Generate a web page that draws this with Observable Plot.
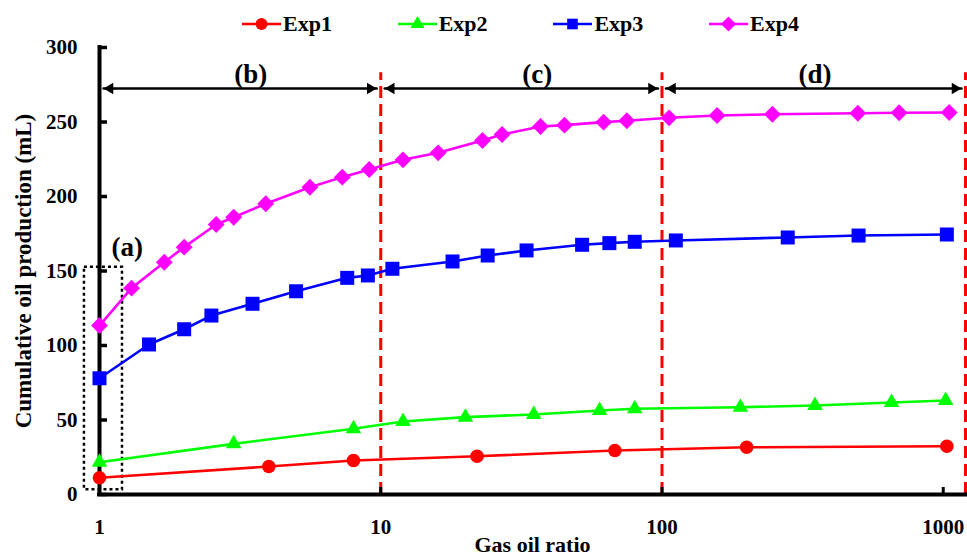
<!DOCTYPE html>
<html>
<head>
<meta charset="utf-8">
<script src="https://cdn.jsdelivr.net/npm/d3@7"></script>
<script src="https://cdn.jsdelivr.net/npm/@observablehq/plot@0.6"></script>
<style>
  html, body { margin: 0; padding: 0; background: #fff; }
  #wrap { position: relative; width: 967px; height: 558px; overflow: hidden; }
  #legend { position: absolute; top: 12px; left: 0; height: 24px; display: flex; padding-left: 242px;
            font-family: "Liberation Serif", "Times New Roman", serif; font-weight: bold; font-size: 22px; color: #000; z-index: 2; }
  .item { display: flex; align-items: center; width: 155.7px; height: 24px; }
  .item svg { display: block; margin-right: 1px; }
</style>
</head>
<body>
<div id="wrap">
  <div id="legend"></div>
  <div id="chart"></div>
</div>
<script>
// ---- data ----
const series = ["Exp1", "Exp2", "Exp3", "Exp4"];
const colors = ["#ff0000", "#00ff00", "#0000ff", "#ff00ff"];
const symbols = ["circle", "triangle", "square", "diamond2"];

const exp1X = [1, 4, 8, 22, 68, 200, 1030];
const exp1Y = [11.2, 18.8, 22.8, 25.7, 29.5, 31.7, 32.4];

const exp2X = [1, 3, 8, 12, 20, 35, 60, 80, 190, 350, 655, 1020];
const exp2Y = [21.7, 34, 44.1, 49, 51.9, 53.7, 56.4, 57.5, 58.6, 59.7, 61.7, 63.1];

const exp3X = [1, 1.5, 2, 2.5, 3.5, 5, 7.6, 9, 11, 18, 24, 33, 52, 65, 80, 112, 280, 500, 1030];
const exp3Y = [78, 100.7, 110.9, 120.1, 128, 136.4, 145.4, 147, 151.5, 156.4, 160.4, 163.8, 167.6, 168.7, 169.6, 170.5, 172.5, 173.8, 174.5];

const exp4X = [1, 1.3, 1.7, 2, 2.6, 3, 3.9, 5.6, 7.3, 9.1, 12, 16, 23, 27, 37, 45, 62, 75, 106, 157, 247, 497, 697, 1050];
const exp4Y = [113.4, 138.5, 155.9, 166, 181.2, 186.1, 195.1, 206.2, 213, 218.1, 224.6, 229.3, 237.6, 241.6, 247, 247.9, 249.9, 250.8, 252.8, 254.4, 255.2, 255.9, 256.2, 256.4];

const xTicks = [1, 10, 100, 1000];
const yTicks = [0, 50, 100, 150, 200, 250, 300];
const xLabel = "Gas oil ratio";
const yLabel = "Cumulative oil production (mL)";

// region annotations (b), (c), (d)
const regionBounds = [10, 100, 1200];
const regionStart = [1, 10, 100];
const regionEnd = [10, 100, 1200];
const regionLabels = ["(b)", "(c)", "(d)"];
const regionLabelX = [3.45, 36, 350];
const regionArrowY = 272.5;
const regionLabelY = 282;
const regionLineTop = 283;

// region (a) box
const boxALabel = "(a)";
const boxAX = [0.884, 1.207];
const boxAY = [3.2, 152.5];
const boxALabelX = 1.255;
const boxALabelY = 166;

// ---- build ----
const FONT = "'Liberation Serif', 'Times New Roman', serif";
const seriesX = [exp1X, exp2X, exp3X, exp4X];
const seriesY = [exp1Y, exp2Y, exp3Y, exp4Y];
const markerR = [6.8, 5.8, 7.9, 7.6];

const rows = series.flatMap((s, i) => seriesX[i].map((x, j) => ({series: s, x, y: seriesY[i][j]})));
const arrows = regionStart.map((a, i) => ({x1: a, x2: regionEnd[i], y: regionArrowY}));
const regionText = regionLabels.map((t, i) => ({t, x: regionLabelX[i], y: regionLabelY}));

const W = 967, H = 558, ML = 99, MR = 2, MT = 47, MB = 64;

const marks = [
  Plot.ruleX(regionBounds, {x: d => d, y1: 0, y2: regionLineTop, stroke: "#ff0000", strokeWidth: 3, strokeDasharray: "12,6"}),
  Plot.rect([{x1: boxAX[0], x2: boxAX[1], y1: boxAY[0], y2: boxAY[1]}], {x1: "x1", x2: "x2", y1: "y1", y2: "y2", fill: "none", stroke: "#000", strokeWidth: 2.5, strokeDasharray: "3,3"}),
  Plot.ruleY([0], {stroke: "#000", strokeWidth: 4, strokeLinecap: "square"}),
  Plot.ruleX([1], {stroke: "#000", strokeWidth: 4, strokeLinecap: "square"}),
  Plot.tickY(yTicks, {y: d => d, insetRight: (W - ML - MR) - 8, stroke: "#000", strokeWidth: 3.5}),
  Plot.tickX(xTicks, {x: d => d, insetTop: (H - MT - MB) - 7, stroke: "#000", strokeWidth: 3}),
  Plot.axisY({ticks: yTicks, tickSize: 0, tickPadding: 22, label: null}),
  Plot.axisX({ticks: xTicks, tickSize: 0, tickPadding: 25, tickFormat: d3.format("d"), label: null}),
  Plot.text([yLabel], {text: d => d, frameAnchor: "left", textAnchor: "middle", lineAnchor: "middle", rotate: -90, dx: -75.5, fontSize: 23}),
  Plot.text([xLabel], {text: d => d, frameAnchor: "bottom", textAnchor: "middle", lineAnchor: "bottom", dy: 57, fontSize: 22}),
  // arrows
  Plot.arrow(arrows, {x1: "x1", x2: "x2", y: "y", headLength: 0, inset: 4, stroke: "#000", strokeWidth: 2.5}),
  Plot.dot(arrows, {x: "x1", y: "y", symbol: "triangle", rotate: -90, r: 4.2, fill: "#000", stroke: "none", dx: 10.5}),
  Plot.dot(arrows, {x: "x2", y: "y", symbol: "triangle", rotate: 90, r: 4.2, fill: "#000", stroke: "none", dx: -10.5}),
  Plot.text(regionText, {x: "x", y: "y", text: "t", fontSize: 27}),
  Plot.text([boxALabel], {x: boxALabelX, y: boxALabelY, text: d => d, fontSize: 27})
];

series.forEach((s, i) => {
  const d = rows.filter(r => r.series === s);
  marks.push(Plot.line(d, {x: "x", y: "y", stroke: colors[i], strokeWidth: 2.6}));
});
series.forEach((s, i) => {
  const d = rows.filter(r => r.series === s);
  marks.push(Plot.dot(d, {x: "x", y: "y", symbol: symbols[i], r: markerR[i], fill: colors[i], stroke: "none"}));
});

const chart = Plot.plot({
  width: W, height: H,
  marginLeft: ML, marginRight: MR, marginTop: MT, marginBottom: MB,
  style: {fontFamily: FONT, fontWeight: "bold", fontSize: "21px", color: "#000", background: "transparent", overflow: "visible"},
  x: {type: "log", domain: [1, 1200]},
  y: {domain: [0, 300]},
  marks
});
document.getElementById("chart").appendChild(chart);

// ---- legend ----
const legend = d3.select("#legend");
const symMap = {circle: d3.symbolCircle, triangle: d3.symbolTriangle, square: d3.symbolSquare, diamond2: d3.symbolDiamond2};
const legendR = [6, 5.2, 6, 6.8];
series.forEach((s, i) => {
  const item = legend.append("div").attr("class", "item");
  const svg = item.append("svg").attr("width", 40).attr("height", 24);
  svg.append("line").attr("x1", 0).attr("x2", 39).attr("y1", 12).attr("y2", 12)
     .attr("stroke", colors[i]).attr("stroke-width", 2.6);
  svg.append("path").attr("transform", "translate(19.5,12)")
     .attr("d", d3.symbol(symMap[symbols[i]], Math.PI * legendR[i] * legendR[i])())
     .attr("fill", colors[i]);
  item.append("span").text(s);
});
</script>
</body>
</html>
